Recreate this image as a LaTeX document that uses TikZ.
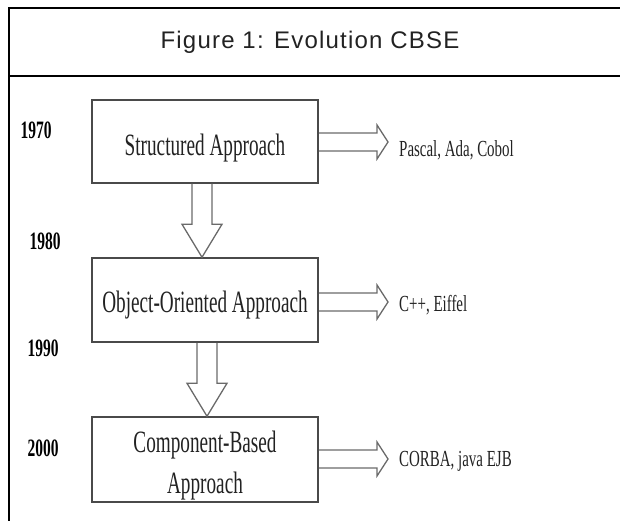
\documentclass[tikz,border=0pt]{standalone}
\usepackage{fontspec}
\setmainfont{Liberation Serif}
\newfontfamily\titlefont[LetterSpace=5]{Liberation Sans}
\newfontfamily\boxfont[FakeStretch=0.62]{Liberation Serif}
\newfontfamily\langfont[FakeStretch=0.65]{Liberation Serif}
\newfontfamily\yearfont[FakeStretch=0.62]{Liberation Serif Bold}
\usetikzlibrary{calc}
\definecolor{boxgray}{HTML}{4A4A4A}
\definecolor{arrowgray}{HTML}{6A6A6A}
\definecolor{textgray}{HTML}{222222}
\begin{document}
\begin{tikzpicture}[
        x=1pt, y=-1pt,
        box/.style={
            draw=boxgray,
            line width=1.5pt,
            fill=white,
            minimum width=226pt,
            inner sep=0pt,
            align=center,
            text=textgray,
            font=\boxfont\fontsize{31}{41}\selectfont
        },
        year/.style={text=black, inner sep=0pt, font=\yearfont\fontsize{25}{25}\selectfont},
        lang/.style={anchor=west, inner sep=0pt, text=textgray, font=\langfont\fontsize{23}{23}\selectfont},
        frame/.style={draw=black, line width=2pt},
        hollow down/.style={
            draw=arrowgray, line width=1.3pt, line join=miter,
            to path={let \p1=(\tikztostart), \p2=(\tikztotarget) in
                (\x1-10pt,\y1) -- (\x1-10pt,\y2+33pt) -- (\x1-20pt,\y2+33pt) -- (\x2,\y2)
                -- (\x1+20pt,\y2+33pt) -- (\x1+10pt,\y2+33pt) -- (\x1+10pt,\y1)}
        },
        hollow right/.style={
            draw=arrowgray, line width=1.3pt, line join=miter,
            to path={let \p1=(\tikztostart), \p2=(\tikztotarget) in
                (\x1,\y1+9pt) -- (\x2-11pt,\y1+9pt) -- (\x2-11pt,\y1+17pt) -- (\x2,\y2)
                -- (\x2-11pt,\y1-17pt) -- (\x2-11pt,\y1-9pt) -- (\x1,\y1-9pt)}
        }
    ]

    \useasboundingbox (0,0) rectangle (620,521);

    % Rahmen
    \draw[frame] (622,8) -- (9,8) -- (9,523);
    \draw[frame] (9,76) -- (622,76);
    \node[text=textgray, font=\titlefont\fontsize{24}{24}\selectfont] (title) at (310,42) {Figure 1: Evolution CBSE};

    % Ansaetze
    \node[box, minimum height=83pt, text height=28pt, text depth=0pt] (sa) at (205,141.5) {Structured Approach};
    \node[box, minimum height=84pt, text height=25pt, text depth=0pt] (oo) at (205,300)   {Object-Oriented Approach};
    \node[box, minimum height=85pt, text height=67pt, text depth=0pt] (cb) at (205,459.5) {Component-Based\\Approach};

    % Jahre
    \node[year] (y70) at (36,130) {1970};
    \node[year] (y80) at (45,241) {1980};
    \node[year] (y90) at (43,348) {1990};
    \node[year] (y00) at (43,448) {2000};

    % Sprachen
    \node[lang] (l1) at (399,150) {Pascal, Ada, Cobol};
    \node[lang] (l2) at (399,305) {C++, Eiffel};
    \node[lang] (l3) at (399,461) {CORBA, java EJB};

    \coordinate (t1) at (388,142);
    \coordinate (t2) at (388,302);
    \coordinate (t3) at (388,459);

    % Pfeile
    \draw[hollow down] ([xshift=-3pt]sa.south) to ([xshift=-3pt]oo.north);
    \draw[hollow down] ([xshift=2pt]oo.south) to ([xshift=2pt]cb.north);
    \draw[hollow right] (sa.east |- t1) to (t1);
    \draw[hollow right] (oo.east |- t2) to (t2);
    \draw[hollow right] (cb.east |- t3) to (t3);

\end{tikzpicture}
\end{document}
